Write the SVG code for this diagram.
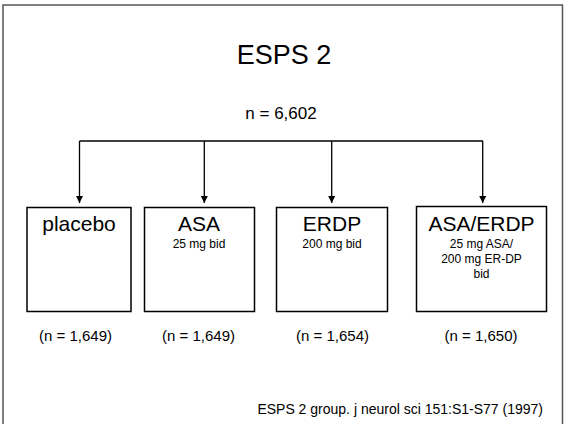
<svg xmlns="http://www.w3.org/2000/svg" width="564" height="424" viewBox="0 0 564 424">
<defs>
<marker id="ah" markerWidth="8" markerHeight="8" refX="7" refY="3.5" orient="auto" markerUnits="userSpaceOnUse">
<path d="M0,0 L7,3.5 L0,7 Z" fill="#000"/>
</marker>
<style>
text{font-family:"Liberation Sans",Arial,sans-serif;fill:#000;text-anchor:middle}
.box{fill:#fff;stroke:#000;stroke-width:1.5}
.main{font-size:21px}
.sub{font-size:12px}
.n{font-size:15px}
.conn{fill:none;stroke:#000;stroke-width:1.3}
</style>
</defs>
<rect width="564" height="424" fill="#fff"/>
<path d="M3,430 V5 H562.5 V430" fill="none" stroke="#555" stroke-width="1.5"/>
<text x="284" y="64" font-size="27">ESPS 2</text>
<text x="281" y="119" font-size="17">n = 6,602</text>
<g id="connectors">
<path class="conn" d="M79.5,141 H483"/>
<path class="conn" d="M79.5,141 V203" marker-end="url(#ah)"/>
<path class="conn" d="M204.3,141 V203" marker-end="url(#ah)"/>
<path class="conn" d="M331.7,141 V203" marker-end="url(#ah)"/>
<path class="conn" d="M482.7,141 V203" marker-end="url(#ah)"/>
</g>
<g id="placebo">
<rect class="box" x="27" y="207.5" width="104" height="104"/>
<text class="main" x="79" y="231">placebo</text>
</g>
<g id="asa">
<rect class="box" x="144.5" y="207.5" width="110" height="104"/>
<text class="main" x="199" y="231">ASA</text>
<text class="sub" x="199" y="248">25 mg bid</text>
</g>
<g id="erdp">
<rect class="box" x="276.5" y="207.5" width="111" height="104"/>
<text class="main" x="332" y="231">ERDP</text>
<text class="sub" x="332" y="248">200 mg bid</text>
</g>
<g id="asaerdp">
<rect class="box" x="416.5" y="206.5" width="130" height="105"/>
<text class="main" x="481.5" y="231">ASA/ERDP</text>
<text class="sub" x="481.5" y="248">25 mg ASA/</text>
<text class="sub" x="481.5" y="263">200 mg ER-DP</text>
<text class="sub" x="481.5" y="278">bid</text>
</g>
<text class="n" x="75.5" y="341">(n = 1,649)</text>
<text class="n" x="198.5" y="341">(n = 1,649)</text>
<text class="n" x="332.5" y="341">(n = 1,654)</text>
<text class="n" x="481" y="341">(n = 1,650)</text>
<text x="543" y="414" font-size="14" style="text-anchor:end">ESPS 2 group. j neurol sci 151:S1-S77 (1997)</text>
</svg>
